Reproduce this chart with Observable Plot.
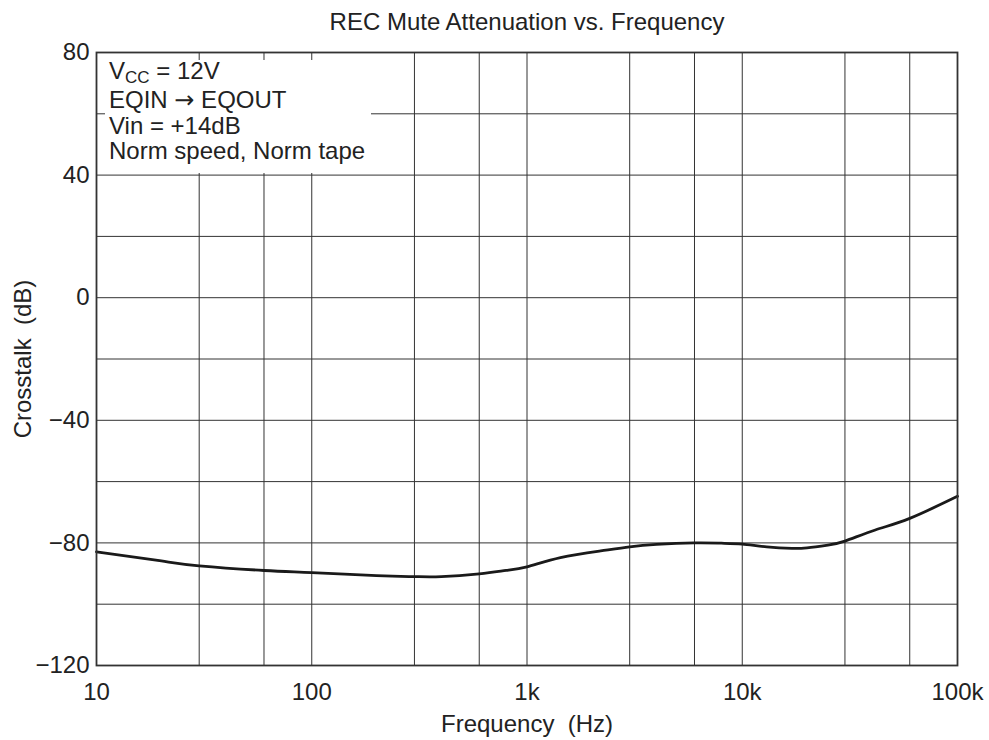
<!DOCTYPE html>
<html>
<head>
<meta charset="utf-8">
<script src="https://cdn.jsdelivr.net/npm/d3@7"></script>
<script src="https://cdn.jsdelivr.net/npm/@observablehq/plot@0.6"></script>
<style>
  body { margin: 0; background: white; }
  #wrap { position: relative; width: 989px; height: 740px; font-family: "Liberation Sans", Arial, sans-serif; color: #222; }
  #legend { position: absolute; left: 105px; top: 60px; width: 266px; height: 113px; background: white; font-size: 24px; }
  #legend div { position: absolute; left: 4px; white-space: nowrap; line-height: 1; }
  #legend sub { font-size: 17px; vertical-align: -4px; line-height: 0; }
  #legend .arr { font-family: "DejaVu Sans", sans-serif; font-size: 24px; }
</style>
</head>
<body>
<div id="wrap"></div>
<script>
// Data
const freqs = [10, 20, 30, 60, 100, 200, 300, 400, 600, 800, 1000, 1430, 2200, 3000, 4000, 6000, 8000, 10000, 13000, 17000, 20000, 25000, 30000, 41500, 60000, 100000];
const crosstalk = [-82.9, -85.9, -87.5, -89.0, -89.7, -90.7, -91.0, -91.0, -90.1, -89.0, -87.8, -84.8, -82.6, -81.3, -80.5, -80.0, -80.1, -80.4, -81.3, -81.8, -81.6, -80.7, -79.4, -75.8, -72.0, -64.8];
const xTicks = [10, 100, 1000, 10000, 100000];
const xTickLabels = ["10", "100", "1k", "10k", "100k"];
const xGrid = [30, 60, 100, 300, 600, 1000, 3000, 6000, 10000, 30000, 60000];
const yTicks = [-120, -80, -40, 0, 40, 80];
const yGrid = [-100, -80, -60, -40, -20, 0, 20, 40, 60];
const title = "REC Mute Attenuation vs. Frequency";
const xLabel = "Frequency\u00a0 (Hz)";
const yLabel = "Crosstalk\u00a0 (dB)";
const legendLines = ["V<sub>CC</sub> = 12V", "EQIN <span class=\"arr\">\u2192</span> EQOUT", "Vin = +14dB", "Norm speed, Norm tape"];

const data = freqs.map((f, i) => ({f, v: crosstalk[i]}));

const chart = Plot.plot({
  width: 989,
  height: 740,
  marginLeft: 96,
  marginRight: 32,
  marginTop: 52,
  marginBottom: 75,
  style: {fontFamily: "'Liberation Sans', Arial, sans-serif", fontSize: "24px", color: "#222", background: "white", overflow: "visible"},
  x: {type: "log", domain: [10, 100000]},
  y: {domain: [-120, 80]},
  marks: [
    Plot.ruleX(xGrid, {stroke: "#333", strokeWidth: 1}),
    Plot.ruleY(yGrid, {stroke: "#333", strokeWidth: 1}),
    Plot.axisX(xTicks, {tickSize: 0, tickPadding: 17, tickFormat: (d) => xTickLabels[xTicks.indexOf(d)], label: null, fontSize: 24}),
    Plot.axisY(yTicks, {tickSize: 0, tickPadding: 7, label: null, fontSize: 24}),
    Plot.line(data, {x: "f", y: "v", curve: "natural", stroke: "#1a1a1a", strokeWidth: 2.8}),
    Plot.frame({stroke: "#333", strokeWidth: 1.8}),
    Plot.text([title], {frameAnchor: "top", textAnchor: "middle", lineAnchor: "middle", dy: -30, fontSize: 24, fill: "#222"}),
    Plot.text([xLabel], {frameAnchor: "bottom", textAnchor: "middle", lineAnchor: "middle", dy: 59, fontSize: 24, fill: "#222"}),
    Plot.text([yLabel], {frameAnchor: "left", textAnchor: "middle", lineAnchor: "middle", dx: -73, rotate: -90, fontSize: 24, fill: "#222"})
  ]
});

const wrap = document.getElementById("wrap");
wrap.appendChild(chart);
const legend = document.createElement("div");
legend.id = "legend";
const tops = [-1, 28, 54, 79];
legendLines.forEach((t, i) => {
  const d = document.createElement("div");
  d.innerHTML = t;
  d.style.top = tops[i] + "px";
  legend.appendChild(d);
});
wrap.appendChild(legend);
</script>
</body>
</html>
